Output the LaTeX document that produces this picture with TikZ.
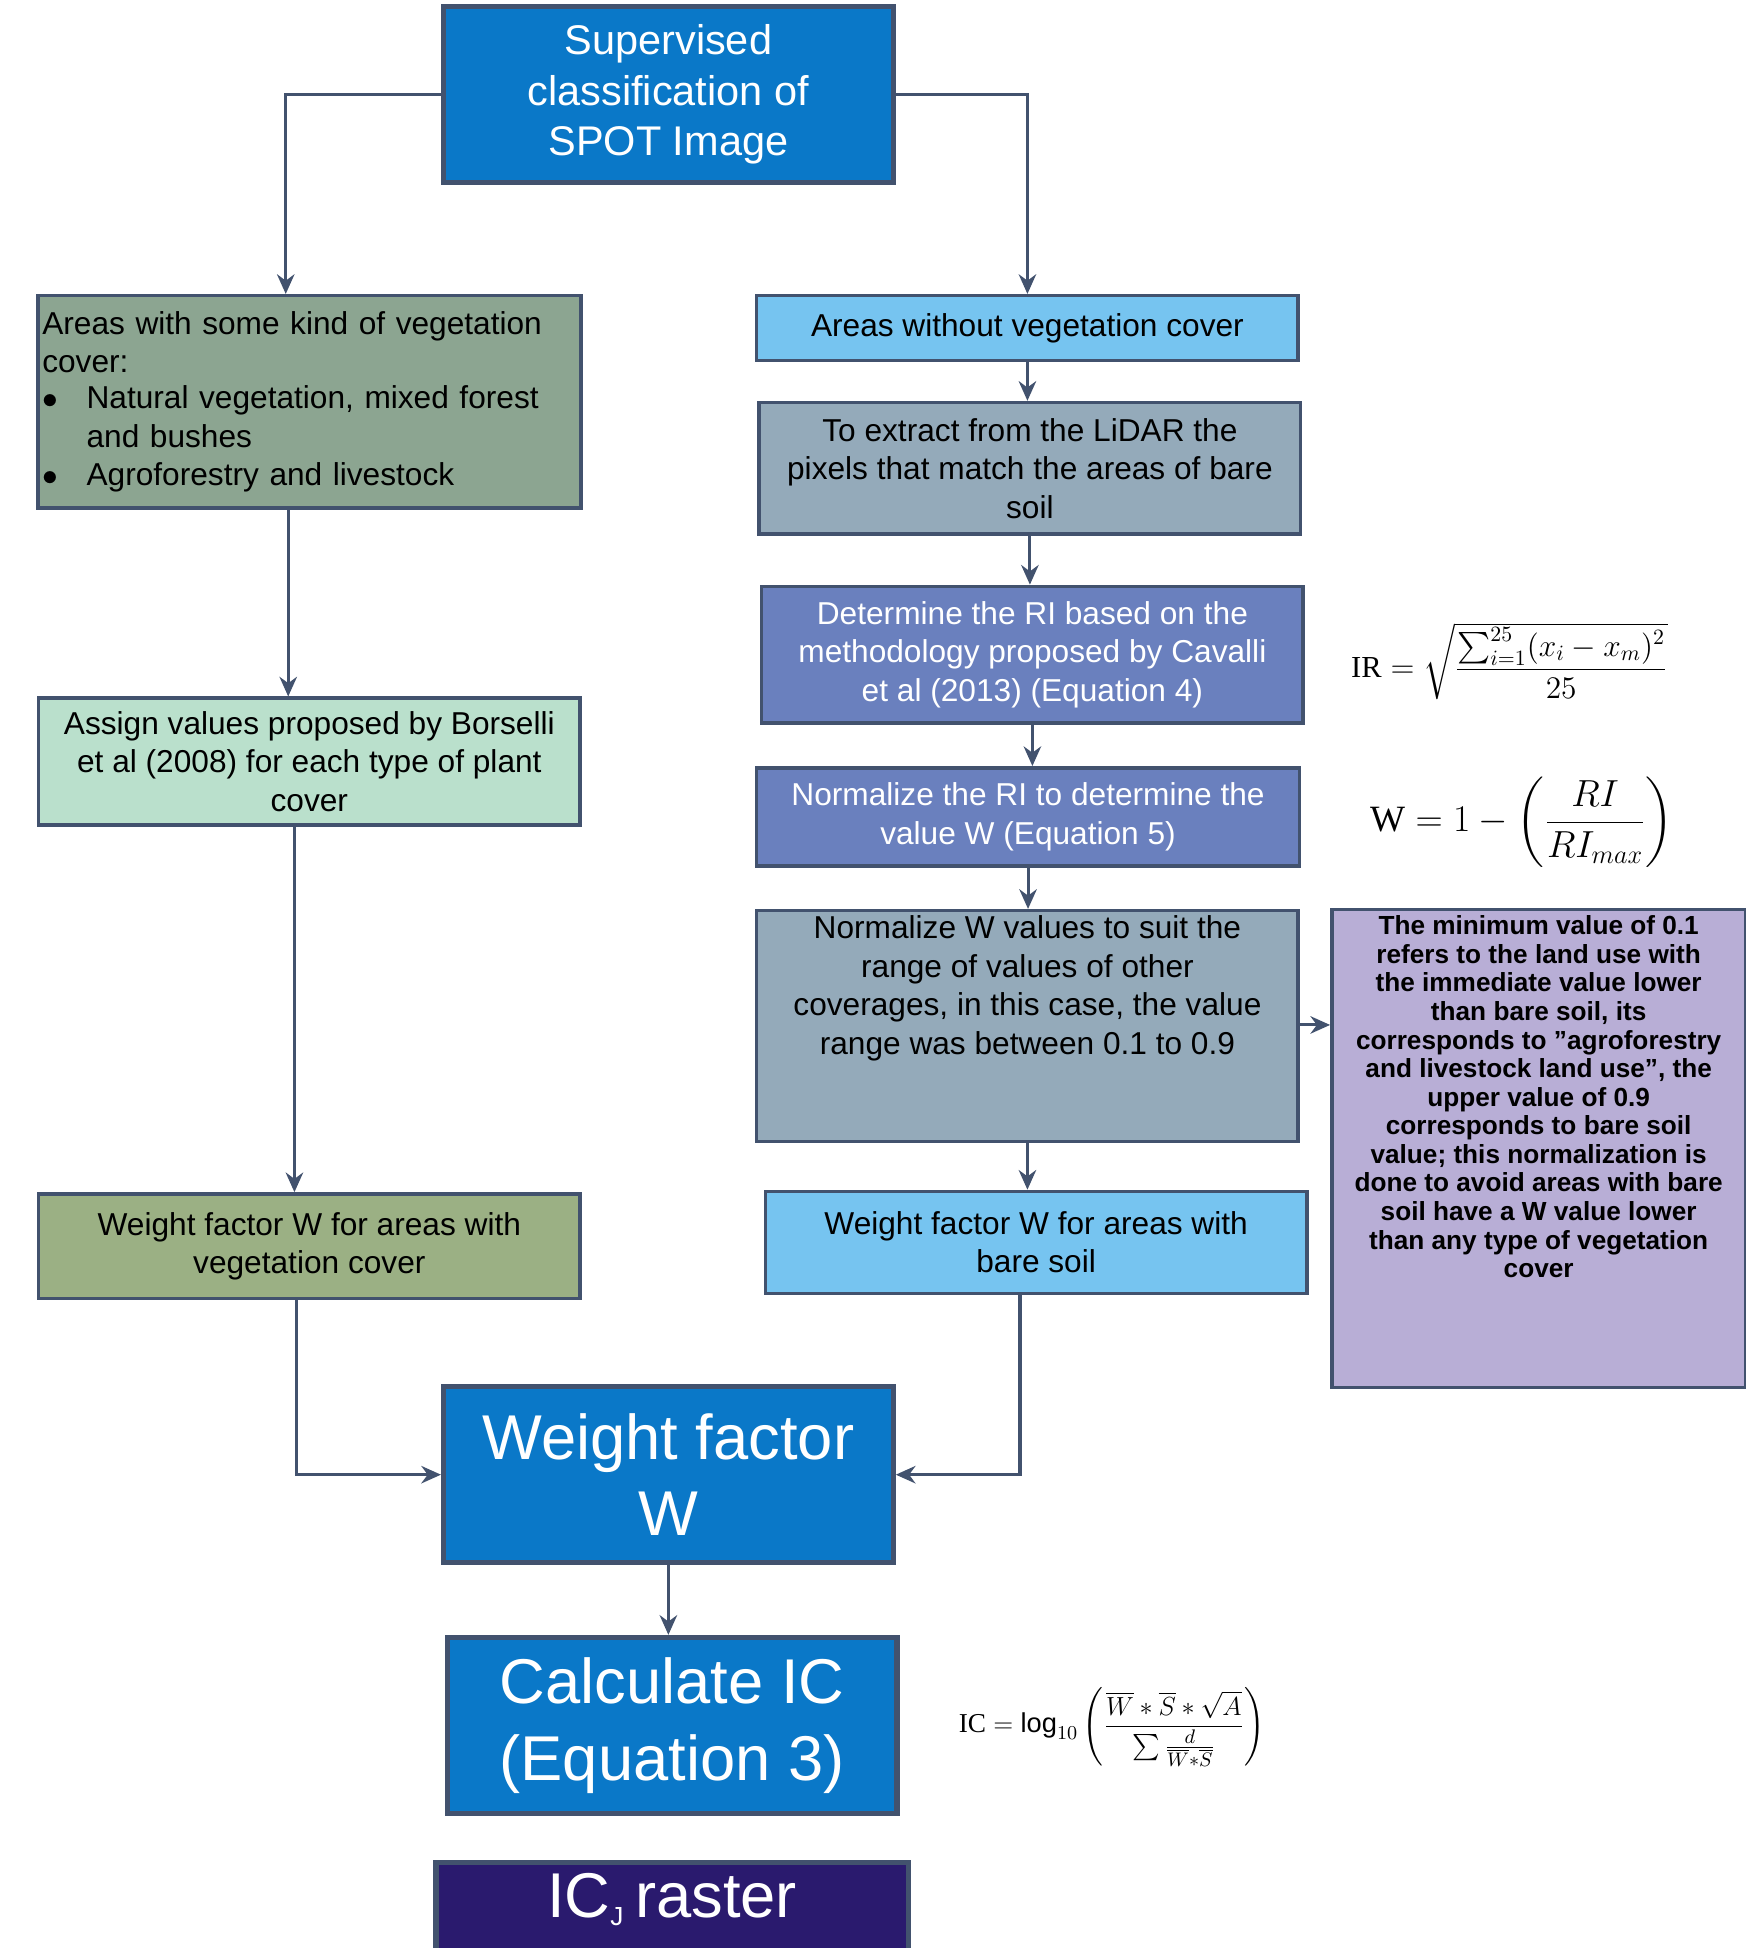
\documentclass[tikz,border=0pt]{standalone}
\usepackage{amsmath}
\usepackage{fontspec}
\setmainfont{Liberation Sans}
\newfontfamily\eqserif{Liberation Serif}
\usetikzlibrary{calc,arrows.meta}
\definecolor{edgeC}{RGB}{66,82,110}
\definecolor{mainB}{RGB}{10,120,200}
\definecolor{vegG}{RGB}{140,165,145}
\definecolor{skyB}{RGB}{118,196,240}
\definecolor{greyB}{RGB}{148,170,186}
\definecolor{slateB}{RGB}{106,128,190}
\definecolor{mintG}{RGB}{186,224,204}
\definecolor{oliveG}{RGB}{155,176,132}
\definecolor{lilac}{RGB}{184,174,214}
\definecolor{darkP}{RGB}{42,26,110}
\tikzset{
  box/.style={draw=edgeC, line width=1.6pt, inner sep=2pt, align=center, font=\fontsize{14.5}{17.6}\selectfont},
  big/.style={box, text=white, fill=mainB, line width=2.4pt},
  arr/.style={draw=edgeC, line width=1.4pt, -{Stealth[length=9pt,width=8pt]}}
}
\begin{document}
\begin{tikzpicture}[x=0.02cm,y=-0.02cm]
\useasboundingbox (0,0) rectangle (1405,1568);

\node[big, minimum width=7.24cm, minimum height=2.84cm, font=\fontsize{19}{23}\selectfont] (top) at (538,76) {Supervised\\classification of\\SPOT Image};

\node[box, fill=vegG, minimum width=8.72cm, minimum height=3.42cm, text width=8.6cm, align=left] (veg) at (249,323.5)
  {Areas with some kind of vegetation\\cover:\\[-1pt]
   \makebox[1.4em][l]{$\bullet$}Natural vegetation, mixed forest\\
   \hspace*{1.4em}and bushes\\
   \makebox[1.4em][l]{$\bullet$}Agroforestry and livestock};
\node[box, fill=mintG, minimum width=8.72cm, minimum height=2.04cm] (assign) at (249,613)
  {Assign values proposed by Borselli\\et al (2008) for each type of plant\\cover};
\node[box, fill=oliveG, minimum width=8.72cm, minimum height=1.68cm] (wveg) at (249,1003)
  {Weight factor W for areas with\\vegetation cover};

\node[box, fill=skyB, minimum width=8.72cm, minimum height=1.04cm] (noveg) at (827,264) {Areas without vegetation cover};
\node[box, fill=greyB, minimum width=8.72cm, minimum height=2.12cm] (lidar) at (829,377)
  {To extract from the LiDAR the\\pixels that match the areas of bare\\soil};
\node[box, fill=slateB, text=white, minimum width=8.72cm, minimum height=2.2cm] (ri) at (831,527)
  {Determine the RI based on the\\methodology proposed by Cavalli\\et al (2013) (Equation 4)};
\node[box, fill=slateB, text=white, minimum width=8.74cm, minimum height=1.58cm] (norm) at (827.5,657.5)
  {Normalize the RI to determine the\\value W (Equation 5)};
\node[box, fill=greyB, minimum width=8.72cm, minimum height=3.72cm] (normw) at (827,826)
  {\parbox[c][3.55cm][t]{8.5cm}{\centering Normalize W values to suit the\\range of values of other\\coverages, in this case, the value\\range was between 0.1 to 0.9}};
\node[box, fill=skyB, minimum width=8.72cm, minimum height=1.64cm] (wbare) at (834,1000)
  {Weight factor W for areas with\\bare soil};
\node[box, fill=lilac, minimum width=6.66cm, minimum height=7.7cm, font=\fontsize{12}{13.1}\selectfont\bfseries] (note) at (1238.5,924.5)
  {\parbox[c][7.5cm][t]{6.5cm}{\centering The minimum value of 0.1\\refers to the land use with\\the immediate value lower\\than bare soil, its\\corresponds to "agroforestry\\and livestock land use", the\\upper value of 0.9\\corresponds to bare soil\\value; this normalization is\\done to avoid areas with bare\\soil have a W value lower\\than any type of vegetation\\cover}};

\node[big, minimum width=7.24cm, minimum height=2.84cm, font=\fontsize{29}{35}\selectfont] (wf) at (538,1187) {Weight factor\\W};
\node[big, minimum width=7.24cm, minimum height=2.84cm, font=\fontsize{29}{35}\selectfont] (calc) at (541,1389) {Calculate IC\\(Equation 3)};
\node[box, fill=darkP, text=white, line width=2.4pt, minimum width=7.6cm, minimum height=2.8cm, font=\fontsize{29}{35}\selectfont] (raster) at (541,1569)
  {\parbox[c][2.6cm][t]{7.4cm}{\centering\vspace*{2pt}IC\textsubscript{\fontsize{12}{12}\selectfont J}\,raster}};

\node[font=\fontsize{14}{17}\selectfont] (eqir) at (1215,532) {$\text{\eqserif IR}=\sqrt{\dfrac{\sum_{i=1}^{25}(x_i-x_m)^2}{25}}$};
\node[font=\fontsize{17}{20}\selectfont] (eqw) at (1225,662) {$\text{\eqserif W}=1-\left(\dfrac{RI}{RI_{max}}\right)$};
\node[font=\fontsize{12.5}{15}\selectfont] (eqic) at (895,1390) {$\text{\eqserif IC}=\log_{10}\left(\dfrac{\overline{W}*\overline{S}*\sqrt{A}}{\sum\frac{d}{\overline{W}*\overline{S}}}\right)$};

\draw[arr] (top.west) -| ($(veg.north)+(-19,0)$);
\draw[arr] (top.east) -| (noveg.north);
\draw[arr] ($(veg.south)+(-17,0)$) -- ($(assign.north)+(-17,0)$);
\draw[arr] ($(assign.south)+(-12,0)$) -- ($(wveg.north)+(-12,0)$);
\draw[arr] ($(wveg.south)+(-10,0)$) |- (wf.west);
\draw[arr] (noveg) -- (noveg |- lidar.north);
\draw[arr] (lidar) -- (lidar |- ri.north);
\draw[arr] (ri) -- (ri |- norm.north);
\draw[arr] (norm) -- (norm |- normw.north);
\draw[arr] (normw.south) -- (normw |- wbare.north);
\draw[arr] (normw.east |- 0,825) -- (note.west |- 0,825);
\draw[arr] ($(wbare.south)+(-13,0)$) |- (wf.east);
\draw[arr] (wf) -- (wf |- calc.north);
\end{tikzpicture}
\end{document}
